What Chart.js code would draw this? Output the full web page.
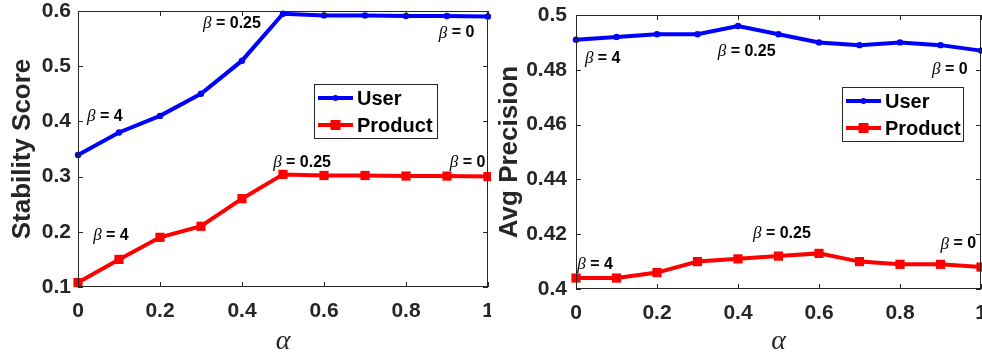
<!DOCTYPE html>
<html>
<head>
<meta charset="utf-8">
<script src="https://cdn.jsdelivr.net/npm/chart.js@4.4.1/dist/chart.umd.min.js"></script>
<style>
  html, body { margin: 0; padding: 0; background: #fff; }
  body { width: 982px; height: 356px; position: relative; overflow: hidden; }
  canvas { position: absolute; top: 0; }
  #stability { left: 0; }
  #precision { left: 491px; }
</style>
</head>
<body>
<canvas id="stability" width="491" height="356"></canvas>
<canvas id="precision" width="491" height="356"></canvas>
<script>
// alpha sweep shared by both panels
const alphaValues = [0, 0.1, 0.2, 0.3, 0.4, 0.5, 0.6, 0.7, 0.8, 0.9, 1];

const userStability    = [0.339, 0.38, 0.41, 0.45, 0.51, 0.595, 0.592, 0.592, 0.591, 0.591, 0.590];
const productStability = [0.108, 0.15, 0.19, 0.21, 0.26, 0.304, 0.302, 0.302, 0.301, 0.301, 0.300];

const userPrecision    = [0.491, 0.492, 0.493, 0.493, 0.496, 0.493, 0.490, 0.489, 0.490, 0.489, 0.487];
const productPrecision = [0.404, 0.404, 0.406, 0.410, 0.411, 0.412, 0.413, 0.410, 0.409, 0.409, 0.408];

// beta annotations: label value + anchor (alpha, score) of the text's left-middle
const stabilityBeta  = ['4', '0.25', '0', '4', '0.25', '0'];
const stabilityNoteX = [0.022, 0.305, 0.88, 0.037, 0.476, 0.907];
const stabilityNoteY = [0.408, 0.578, 0.56, 0.194, 0.325, 0.325];

const precisionBeta  = ['4', '0.25', '0', '4', '0.25', '0'];
const precisionNoteX = [0.022, 0.35, 0.879, 0.003, 0.437, 0.9];
const precisionNoteY = [0.484, 0.4865, 0.480, 0.409, 0.4204, 0.4164];

const AXIS = '#262626';

function toPoints(ys) {
  return alphaValues.map((a, i) => ({ x: a, y: ys[i] }));
}

// matlab style box with inward ticks on all four sides
const boxAxes = {
  id: 'boxAxes',
  afterDatasetsDraw(chart) {
    const { ctx, chartArea: a, scales } = chart;
    ctx.save();
    ctx.strokeStyle = AXIS;
    ctx.lineWidth = 1;
    ctx.strokeRect(a.left + 0.5, a.top + 0.5, a.right - a.left - 1, a.bottom - a.top - 1);
    ctx.beginPath();
    scales.x.ticks.forEach(t => {
      const px = Math.round(scales.x.getPixelForValue(t.value)) + 0.5;
      ctx.moveTo(px, a.bottom); ctx.lineTo(px, a.bottom - 5);
      ctx.moveTo(px, a.top); ctx.lineTo(px, a.top + 5);
    });
    scales.y.ticks.forEach(t => {
      const py = Math.round(scales.y.getPixelForValue(t.value)) + 0.5;
      ctx.moveTo(a.left, py); ctx.lineTo(a.left + 5, py);
      ctx.moveTo(a.right, py); ctx.lineTo(a.right - 5, py);
    });
    ctx.stroke();
    ctx.restore();
  }
};

// "β = value" labels placed in data coordinates
const betaNotes = {
  id: 'betaNotes',
  afterDatasetsDraw(chart, args, opts) {
    const { ctx, scales } = chart;
    ctx.save();
    ctx.fillStyle = '#000';
    ctx.textBaseline = 'middle';
    ctx.textAlign = 'left';
    opts.labels.forEach((lbl, i) => {
      let px = scales.x.getPixelForValue(opts.xs[i]);
      const py = scales.y.getPixelForValue(opts.ys[i]);
      ctx.font = 'italic 17px "Liberation Serif"';
      ctx.fillText('\u03B2', px, py);
      px += ctx.measureText('\u03B2').width;
      ctx.font = 'bold 16px "Liberation Sans"';
      ctx.fillText(' = ' + lbl, px, py);
    });
    ctx.restore();
  }
};

// framed legend drawn inside the plot area
const boxLegend = {
  id: 'boxLegend',
  afterDraw(chart, args, opts) {
    const { ctx } = chart;
    const b = opts.box;
    ctx.save();
    ctx.fillStyle = '#fff';
    ctx.fillRect(b.x, b.y, b.w, b.h);
    ctx.strokeStyle = AXIS;
    ctx.lineWidth = 1;
    ctx.strokeRect(b.x + 0.5, b.y + 0.5, b.w, b.h);
    chart.data.datasets.forEach((ds, i) => {
      const cy = b.y + 14 + i * 27;
      const x0 = b.x + 4, x1 = b.x + 39;
      ctx.strokeStyle = ds.borderColor;
      ctx.lineWidth = 4;
      ctx.beginPath();
      ctx.moveTo(x0, cy); ctx.lineTo(x1, cy);
      ctx.stroke();
      ctx.fillStyle = ds.borderColor;
      const mx = (x0 + x1) / 2;
      if (ds.pointStyle === 'rect') {
        ctx.fillRect(mx - 5, cy - 5, 10, 10);
      } else {
        ctx.beginPath(); ctx.arc(mx, cy, 3, 0, Math.PI * 2); ctx.fill();
      }
      ctx.fillStyle = '#000';
      ctx.font = 'bold 20px "Liberation Sans"';
      ctx.textBaseline = 'middle';
      ctx.fillText(ds.label, b.x + 43, cy + 1);
    });
    ctx.restore();
  }
};

function makeChart(id, cfg) {
  return new Chart(document.getElementById(id), {
    type: 'line',
    data: {
      datasets: [
        {
          label: 'User',
          data: toPoints(cfg.user),
          borderColor: '#0000ff',
          backgroundColor: '#0000ff',
          borderWidth: 4,
          pointStyle: 'circle',
          pointRadius: 3.2,
          pointBorderWidth: 0,
          tension: 0,
          clip: 8
        },
        {
          label: 'Product',
          data: toPoints(cfg.product),
          borderColor: '#ff0000',
          backgroundColor: '#ff0000',
          borderWidth: 4,
          pointStyle: 'rect',
          pointRadius: 6.5,
          pointBorderWidth: 0,
          tension: 0,
          clip: 8
        }
      ]
    },
    options: {
      responsive: false,
      animation: false,
      devicePixelRatio: 1,
      layout: { autoPadding: false, padding: cfg.padding },
      plugins: {
        legend: { display: false },
        tooltip: { enabled: false },
        betaNotes: { labels: cfg.notes, xs: cfg.noteX, ys: cfg.noteY },
        boxLegend: { box: cfg.legendBox }
      },
      scales: {
        x: {
          type: 'linear',
          min: 0,
          max: 1,
          grid: { display: false, drawTicks: false },
          border: { display: false },
          ticks: {
            stepSize: 0.2,
            padding: 12,
            color: AXIS,
            font: { family: 'Liberation Sans', size: 21, weight: 'bold' },
            callback: v => String(Number(v.toFixed(2)))
          },
          title: {
            display: true,
            text: '\u03B1',
            color: AXIS,
            padding: { top: 0, bottom: 0 },
            font: { family: 'Liberation Serif', size: 28, style: 'italic', lineHeight: 1 }
          },
          afterFit: s => {
            s.height = cfg.xHeight;
            s.paddingLeft = 0;
            s.paddingRight = 0;
          }
        },
        y: {
          min: cfg.yMin,
          max: cfg.yMax,
          grid: { display: false, drawTicks: false },
          border: { display: false },
          ticks: {
            stepSize: cfg.yStep,
            padding: cfg.yPad,
            color: AXIS,
            font: { family: 'Liberation Sans', size: 21, weight: 'bold' },
            callback: v => String(Number(v.toFixed(2)))
          },
          title: {
            display: true,
            text: cfg.yTitle,
            color: AXIS,
            padding: { top: cfg.titlePad, bottom: 0 },
            font: { family: 'Liberation Sans', size: 26, weight: 'bold', lineHeight: 1 }
          },
          afterFit: s => {
            s.width = cfg.yWidth;
            s.paddingTop = 0;
            s.paddingBottom = 0;
          }
        }
      }
    },
    plugins: [boxAxes, betaNotes, boxLegend]
  });
}

makeChart('stability', {
  user: userStability,
  product: productStability,
  notes: stabilityBeta, noteX: stabilityNoteX, noteY: stabilityNoteY,
  yMin: 0.1, yMax: 0.6, yStep: 0.1,
  yTitle: 'Stability Score',
  padding: { left: 0, top: 11, right: 3, bottom: 0 },
  yWidth: 78, xHeight: 69, yPad: 7, titlePad: 10,
  legendBox: { x: 314, y: 84, w: 123, h: 54 }
});

makeChart('precision', {
  user: userPrecision,
  product: productPrecision,
  notes: precisionBeta, noteX: precisionNoteX, noteY: precisionNoteY,
  yMin: 0.4, yMax: 0.5, yStep: 0.02,
  yTitle: 'Avg Precision',
  padding: { left: 0, top: 15, right: 1, bottom: 0 },
  yWidth: 85, xHeight: 67, yPad: 9, titlePad: 6,
  legendBox: { x: 351, y: 87, w: 121, h: 54 }
});
</script>
</body>
</html>
